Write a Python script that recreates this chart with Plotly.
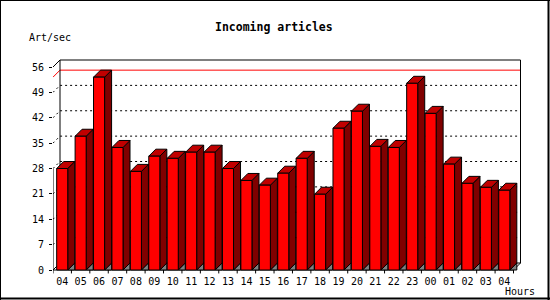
import plotly.graph_objects as go

# ---------------- data ----------------
hours = ["04", "05", "06", "07", "08", "09", "10", "11", "12", "13", "14", "15", "16",
         "17", "18", "19", "20", "21", "22", "23", "00", "01", "02", "03", "04"]
rates = [28.0, 36.9, 53.2, 33.8, 27.2, 31.4, 30.8, 32.5, 32.5, 28.0, 24.7, 23.4, 26.7,
         30.8, 20.9, 39.1, 43.8, 34.1, 33.8, 51.5, 43.2, 29.2, 23.9, 22.8, 22.0]
y_ticks = [0, 7, 14, 21, 28, 35, 42, 49, 56]
title_text = "Incoming articles"
y_title = "Art/sec"
x_title = "Hours"

# ---------------- geometry ----------------
W, H = 550, 300
L, R, T, B = 53, 28, 59, 26
PW = W - L - R
PH = H - T - B
PX_PER_CAT = 18.42
PX_PER_UNIT = 3.625
DEPTH_PX = 7
dx = DEPTH_PX / PX_PER_CAT
dy = DEPTH_PX / PX_PER_UNIT
hw = 0.3
n = len(rates)
x0 = -0.5
xr = n - 0.5
x_end = x0 + PW / PX_PER_CAT
zero_px = 270
ymin = -((H - B) - zero_px) / PX_PER_UNIT
ymax = ymin + PH / PX_PER_UNIT
ytop = y_ticks[-1]
peak = max(rates)

FONT = "DejaVu Sans Mono"


def px_x(px):
    return (px - L) / PW


def px_y(py):
    return ((H - B) - py) / PH


def join(polys):
    xs, ys = [], []
    for poly in polys:
        for (a, b) in poly:
            xs.append(a)
            ys.append(b)
        xs.append(None)
        ys.append(None)
    return xs, ys


fig = go.Figure()

# back wall and side wall dotted grid
grid = []
for v in y_ticks[1:-1]:
    grid.append([(x0, v), (x0 + dx, v + dy), (xr + dx, v + dy)])
gx, gy = join(grid)
fig.add_trace(go.Scatter(x=gx, y=gy, mode="lines",
                         line=dict(color="black", width=1, dash="2px,3px"),
                         hoverinfo="skip", showlegend=False))

# red peak line
rx, ry = join([[(x0, peak), (x0 + dx, peak + dy), (xr + dx, peak + dy)]])
fig.add_trace(go.Scatter(x=rx, y=ry, mode="lines", line=dict(color="#ff0000", width=1),
                         hoverinfo="skip", showlegend=False))

# box frame
frame = [
    [(x0, ytop), (x0 + dx, ytop + dy), (xr + dx, ytop + dy), (xr + dx, dy), (xr, 0), (x0, 0)],
    [(x0 + dx, ytop + dy), (x0 + dx, dy), (xr + dx, dy)],
    [(x0, 0), (x0 + dx, dy)],
    [(x0, 0), (x0, y_ticks[4])],
]
fx, fy = join(frame)
fig.add_trace(go.Scatter(x=fx, y=fy, mode="lines", line=dict(color="black", width=1),
                         hoverinfo="skip", showlegend=False))

# x tick marks at category boundaries
tk = [[(x0 + k, 0), (x0 + k, -0.95)] for k in range(n + 1)]
tx, ty = join(tk)
fig.add_trace(go.Scatter(x=tx, y=ty, mode="lines", line=dict(color="black", width=1),
                         hoverinfo="skip", showlegend=False))

# 3D bars
shadow, sides, tops, fronts = [], [], [], []
for i, v in enumerate(rates):
    xl, xrr = i - hw, i + hw
    shadow.append([(xrr, 0), (xrr + dx, dy), (xrr + dx, 0), (xrr, 0)])
    sides.append([(xrr, 0), (xrr, v), (xrr + dx, v + dy), (xrr + dx, dy), (xrr, 0)])
    tops.append([(xl, v), (xl + dx, v + dy), (xrr + dx, v + dy), (xrr, v), (xl, v)])
    fronts.append([(xl, 0), (xl, v), (xrr, v), (xrr, 0), (xl, 0)])

for polys, col in [(shadow, "#808080"), (sides, "#800000"), (tops, "#c00000"), (fronts, "#ff0000")]:
    px_, py_ = join(polys)
    fig.add_trace(go.Scatter(x=px_, y=py_, mode="lines", fill="toself", fillcolor=col,
                             line=dict(color="black", width=1),
                             hoverinfo="skip", showlegend=False))

fig.update_layout(
    width=W, height=H,
    margin=dict(l=L, r=R, t=T, b=B, pad=0),
    paper_bgcolor="white", plot_bgcolor="white",
    font=dict(family=FONT, size=10, color="black"),
    showlegend=False,
    xaxis=dict(range=[x0, x_end], showgrid=False, zeroline=False, showline=False,
               tickmode="array", tickvals=list(range(n)), ticktext=hours, ticks="",
               tickfont=dict(family=FONT, size=10, color="black"), fixedrange=True),
    yaxis=dict(range=[ymin, ymax], showgrid=False, zeroline=False, showline=False,
               tickmode="array", tickvals=y_ticks, ticks="outside", ticklen=3,
               tickcolor="black", tickwidth=1, ticklabelstandoff=3,
               tickfont=dict(family=FONT, size=10, color="black"), fixedrange=True),
    annotations=[
        dict(text="<b>" + title_text + "</b>", xref="paper", yref="paper",
             x=px_x(274), y=px_y(27), xanchor="center", yanchor="middle", showarrow=False,
             font=dict(family=FONT, size=11.5, color="black")),
        dict(text=y_title, xref="paper", yref="paper", x=px_x(27), y=px_y(37),
             xanchor="left", yanchor="middle", showarrow=False,
             font=dict(family=FONT, size=10, color="black")),
        dict(text=x_title, xref="paper", yref="paper", x=px_x(502.5), y=px_y(291.5),
             xanchor="left", yanchor="middle", showarrow=False,
             font=dict(family=FONT, size=10, color="black")),
    ],
    shapes=[
        dict(type="line", xref="paper", yref="paper", x0=px_x(0.5), x1=px_x(0.5),
             y0=px_y(0), y1=px_y(300), line=dict(color="black", width=1)),
        dict(type="line", xref="paper", yref="paper", x0=px_x(0), x1=px_x(550),
             y0=px_y(0.5), y1=px_y(0.5), line=dict(color="black", width=1)),
        dict(type="line", xref="paper", yref="paper", x0=px_x(548.5), x1=px_x(548.5),
             y0=px_y(0), y1=px_y(300), line=dict(color="black", width=2)),
        dict(type="line", xref="paper", yref="paper", x0=px_x(0), x1=px_x(550),
             y0=px_y(298.5), y1=px_y(298.5), line=dict(color="black", width=2)),
    ],
)

fig.write_html("out.html")
